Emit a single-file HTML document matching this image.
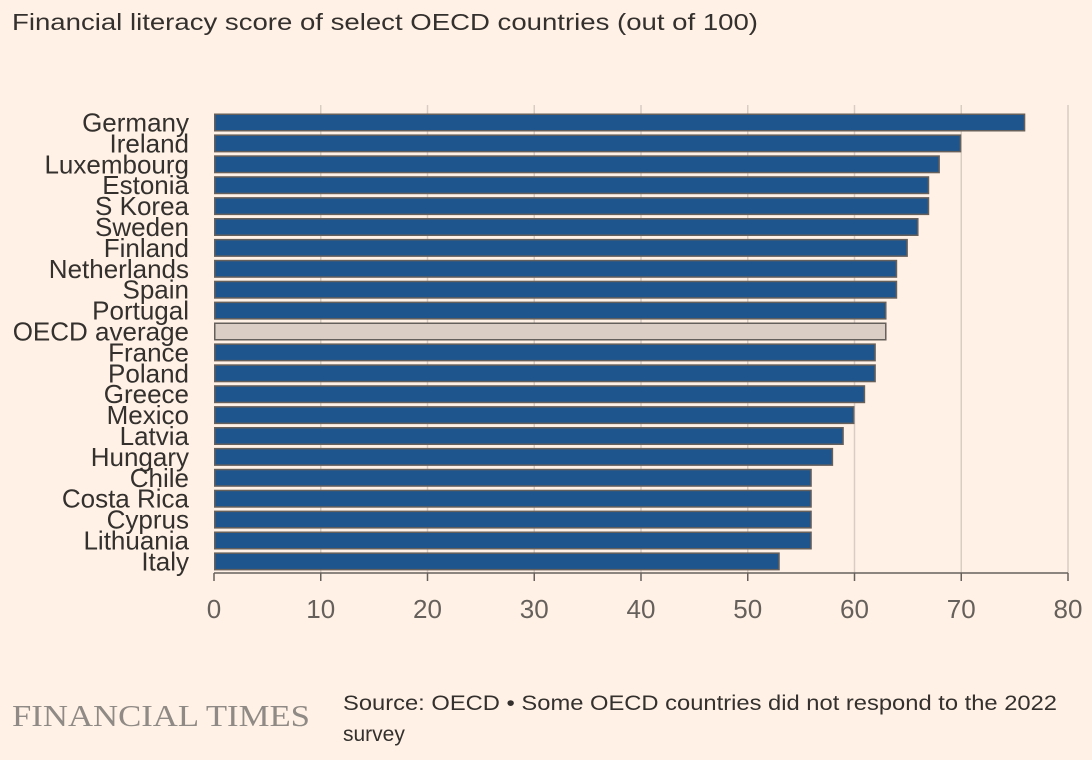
<!DOCTYPE html>
<html><head><meta charset="utf-8"><style>
body{margin:0;background:#fff1e5;font-family:"Liberation Sans",sans-serif;}
svg{display:block}
</style></head><body>
<svg width="1092" height="760" xmlns="http://www.w3.org/2000/svg">
<rect width="1092" height="760" fill="#fff1e5"/>
<text x="12" y="30" font-size="23" fill="#33302e" textLength="746" lengthAdjust="spacingAndGlyphs">Financial literacy score of select OECD countries (out of 100)</text>
<g id="grid"></g>
<g id="bars"></g>
<g id="labels"></g>
<g id="ticks"></g>
<text x="12" y="726" font-family="Liberation Serif,serif" font-size="31" fill="#8f8a85" textLength="298" lengthAdjust="spacingAndGlyphs">FINANCIAL TIMES</text>
<text x="343" y="710" font-size="21" fill="#33302e" textLength="714" lengthAdjust="spacingAndGlyphs">Source: OECD • Some OECD countries did not respond to the 2022</text>
<text x="343" y="741" font-size="21" fill="#33302e">survey</text>
</svg>
<script>
const categories=["Germany","Ireland","Luxembourg","Estonia","S Korea","Sweden","Finland","Netherlands","Spain","Portugal","OECD average","France","Poland","Greece","Mexico","Latvia","Hungary","Chile","Costa Rica","Cyprus","Lithuania","Italy"];
const values=[76,70,68,67,67,66,65,64,64,63,63,62,62,61,60,59,58,56,56,56,56,53];
const tickValues=[0,10,20,30,40,50,60,70,80];
const NS="http://www.w3.org/2000/svg";
const x0=214,x1=1068,xmax=80;
const xs=v=>x0+(v/xmax)*(x1-x0);
const barTop=113.5,pitch=20.9,bh=18;
const ys=i=>barTop+i*pitch;
function mk(t,a){const e=document.createElementNS(NS,t);for(const k in a)e.setAttribute(k,a[k]);return e;}
const grid=document.getElementById('grid'),bars=document.getElementById('bars'),labels=document.getElementById('labels'),ticks=document.getElementById('ticks');
tickValues.forEach(v=>{
  if(v>0){const l=mk('line',{x1:xs(v),x2:xs(v),y1:105,y2:573,stroke:'#d9cdc3','stroke-width':1.5});
  
  
  grid.appendChild(l);}
  const tk=mk('line',{x1:xs(v),x2:xs(v),y1:573,y2:581,stroke:'#66605c','stroke-width':1.5});
  
  
  ticks.appendChild(tk);
  const t=mk('text',{x:xs(v),y:618,'font-size':26,fill:'#66605c','text-anchor':'middle'});
  t.textContent=v;
  
  
  ticks.appendChild(t);
});
const ax=mk('line',{x1:x0,x2:x1,y1:573,y2:573,stroke:'#66605c','stroke-width':1.5});


ticks.appendChild(ax);
categories.forEach((c,i)=>{
  const avg=c==="OECD average";
  const r=mk('rect',{x:x0+0.75,y:ys(i)+0.75,width:xs(values[i])-x0-1.5,height:bh-1.5,fill:avg?'#dbcfc5':'#1e558c',stroke:'#66605c','stroke-width':1.5});
  
  
  bars.appendChild(r);
  const t=mk('text',{x:189,y:ys(i)+bh/2+9,'font-size':26,fill:'#33302e','text-anchor':'end'});
  t.textContent=c;
  
  
  labels.appendChild(t);
});
</script>
</body></html>
